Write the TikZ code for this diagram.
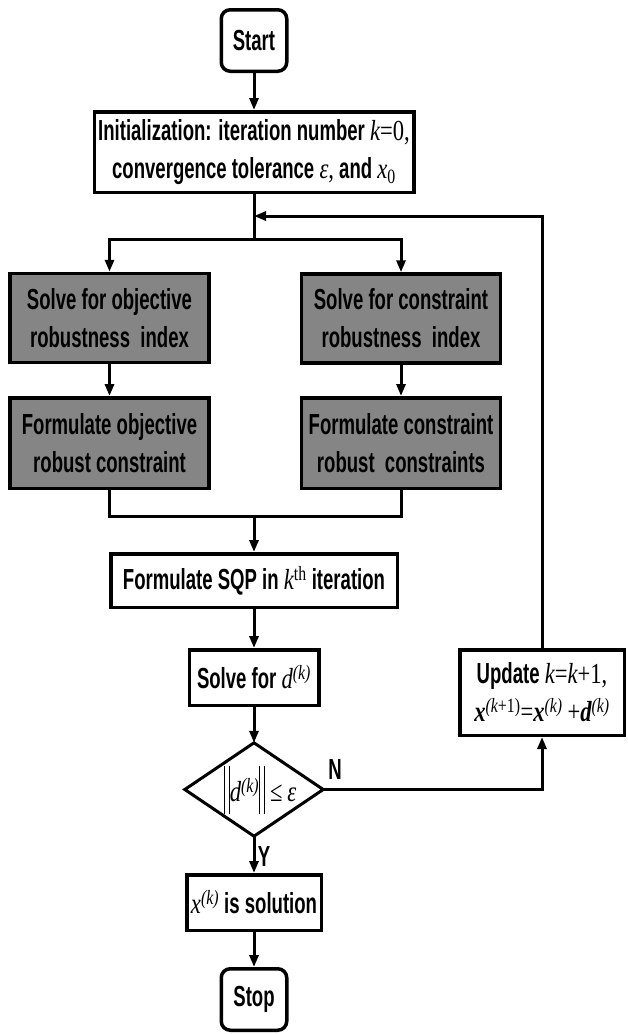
\documentclass[tikz,border=0pt]{standalone}
\usepackage{fontspec}
\setmainfont{Liberation Sans}[FakeStretch=0.64]
\newfontfamily\serf{Liberation Serif}[FakeStretch=0.78]
\usetikzlibrary{arrows.meta}
\newcommand\mi[1]{{\serf\mdseries\itshape #1}}
\newcommand\mr[1]{{\serf\mdseries\upshape #1}}
\newcommand\mbi[1]{{\serf\bfseries\itshape #1}}
\newcommand\sps[1]{\textsuperscript{#1}}
\newcommand\sbs[1]{\textsubscript{#1}}
\newcommand\dbar{\rule[-12pt]{1.3pt}{48pt}\hspace{3.5pt}\rule[-12pt]{1.3pt}{48pt}}
\begin{document}
\begin{tikzpicture}[x=1pt,y=-1pt,
  box/.style={draw, line width=3.5pt, inner sep=0pt, align=center,
    font=\fontsize{29}{38}\selectfont\bfseries},
  gbox/.style={box, fill=black!48},
  term/.style={box, rounded corners=9pt},
  conn/.style={line width=3pt},
  arr/.style={conn, -{Triangle[length=12pt,width=9pt]}},
  lbl/.style={font=\fontsize{29}{30}\selectfont\bfseries, inner sep=0pt}]
\useasboundingbox (0,0) rectangle (627,1034);

\node[term, minimum width=65.5pt, minimum height=61.5pt] (start) at (254,40.5) {Start};
\node[box, minimum width=319.5pt, minimum height=80.5pt] (init) at (254,152)
  {Initialization: iteration number \mi{k}\mr{=0,}\\convergence tolerance \mi{ε}\mr{,} and \mi{x}\sbs{\mr{0}}};
\node[gbox, minimum width=199pt, minimum height=89pt] (g1) at (109.5,318) {Solve for objective\\robustness\ \ index};
\node[gbox, minimum width=199pt, minimum height=89pt] (g2) at (401,318.5) {Solve for constraint\\robustness\ \ index};
\node[gbox, minimum width=199pt, minimum height=90.5pt] (g3) at (109.5,443) {Formulate objective\\robust constraint};
\node[gbox, minimum width=199pt, minimum height=90.5pt] (g4) at (401,443) {Formulate constraint\\robust\ \ constraints};
\node[box, minimum width=286.5pt, minimum height=53.5pt] (sqp) at (254,580.5)
  {Formulate SQP in \mi{k}\sps{\mr{th}} iteration};
\node[box, minimum width=129.5pt, minimum height=55.5pt] (sd) at (254,677.5)
  {Solve for \mi{d}\sps{\mi{(k)}}};
\node[inner sep=0pt, minimum width=138pt, minimum height=93pt,
  font=\fontsize{29}{30}\selectfont] (dec) at (254,789.5)
  {\hspace*{12pt}\dbar\mi{d}\sps{\mi{(k)}}\dbar\,\mr{≤}\,\mi{ε}};
\draw[line width=3pt, line join=miter] (dec.north) -- (dec.east) -- (dec.south) -- (dec.west) -- cycle;
\node[box, minimum width=134.5pt, minimum height=55.5pt] (sol) at (254,902.5)
  {\mi{x}\sps{\mi{(k)}} is solution};
\node[term, minimum width=65.5pt, minimum height=61.5pt] (stop) at (254,999.5) {Stop};
\node[box, minimum width=164.5pt, minimum height=85.5pt] (upd) at (542,692.5)
  {Update \mi{k}\mr{=}\mi{k}\mr{+1,}\\\mbi{x}\sps{\mi{(k}\mr{+1)}}\mr{=}\mbi{x}\sps{\mi{(k)}}\,\mr{+}\mbi{d}\sps{\mi{(k)}}};

\coordinate (br) at (254,239);
\coordinate (jn) at (254,516);
\coordinate (loopin) at (254,216);

\draw[arr] (start.south) -- (init.north);
\draw[conn] (init.south) -- (br);
\draw[arr] (br) -| (g1.north);
\draw[arr] (br) -| (g2.north);
\draw[arr] (g1.south) -- (g3.north);
\draw[arr] (g2.south) -- (g4.north);
\draw[conn] (g3.south) |- (jn);
\draw[conn] (g4.south) |- (jn);
\draw[arr] (jn) -- (sqp.north);
\draw[arr] (sqp.south) -- (sd.north);
\draw[arr] (sd.south) -- (dec.north);
\draw[arr] (dec.south) -- (sol.north);
\node[lbl] (ylab) at (264,857) {Y};
\draw[arr] (sol.south) -- (stop.north);
\draw[arr] (dec.east) -| (upd.south);
\node[lbl] (nlab) at (335,770) {N};
\draw[arr] (upd.north) |- (loopin);
\end{tikzpicture}
\end{document}
